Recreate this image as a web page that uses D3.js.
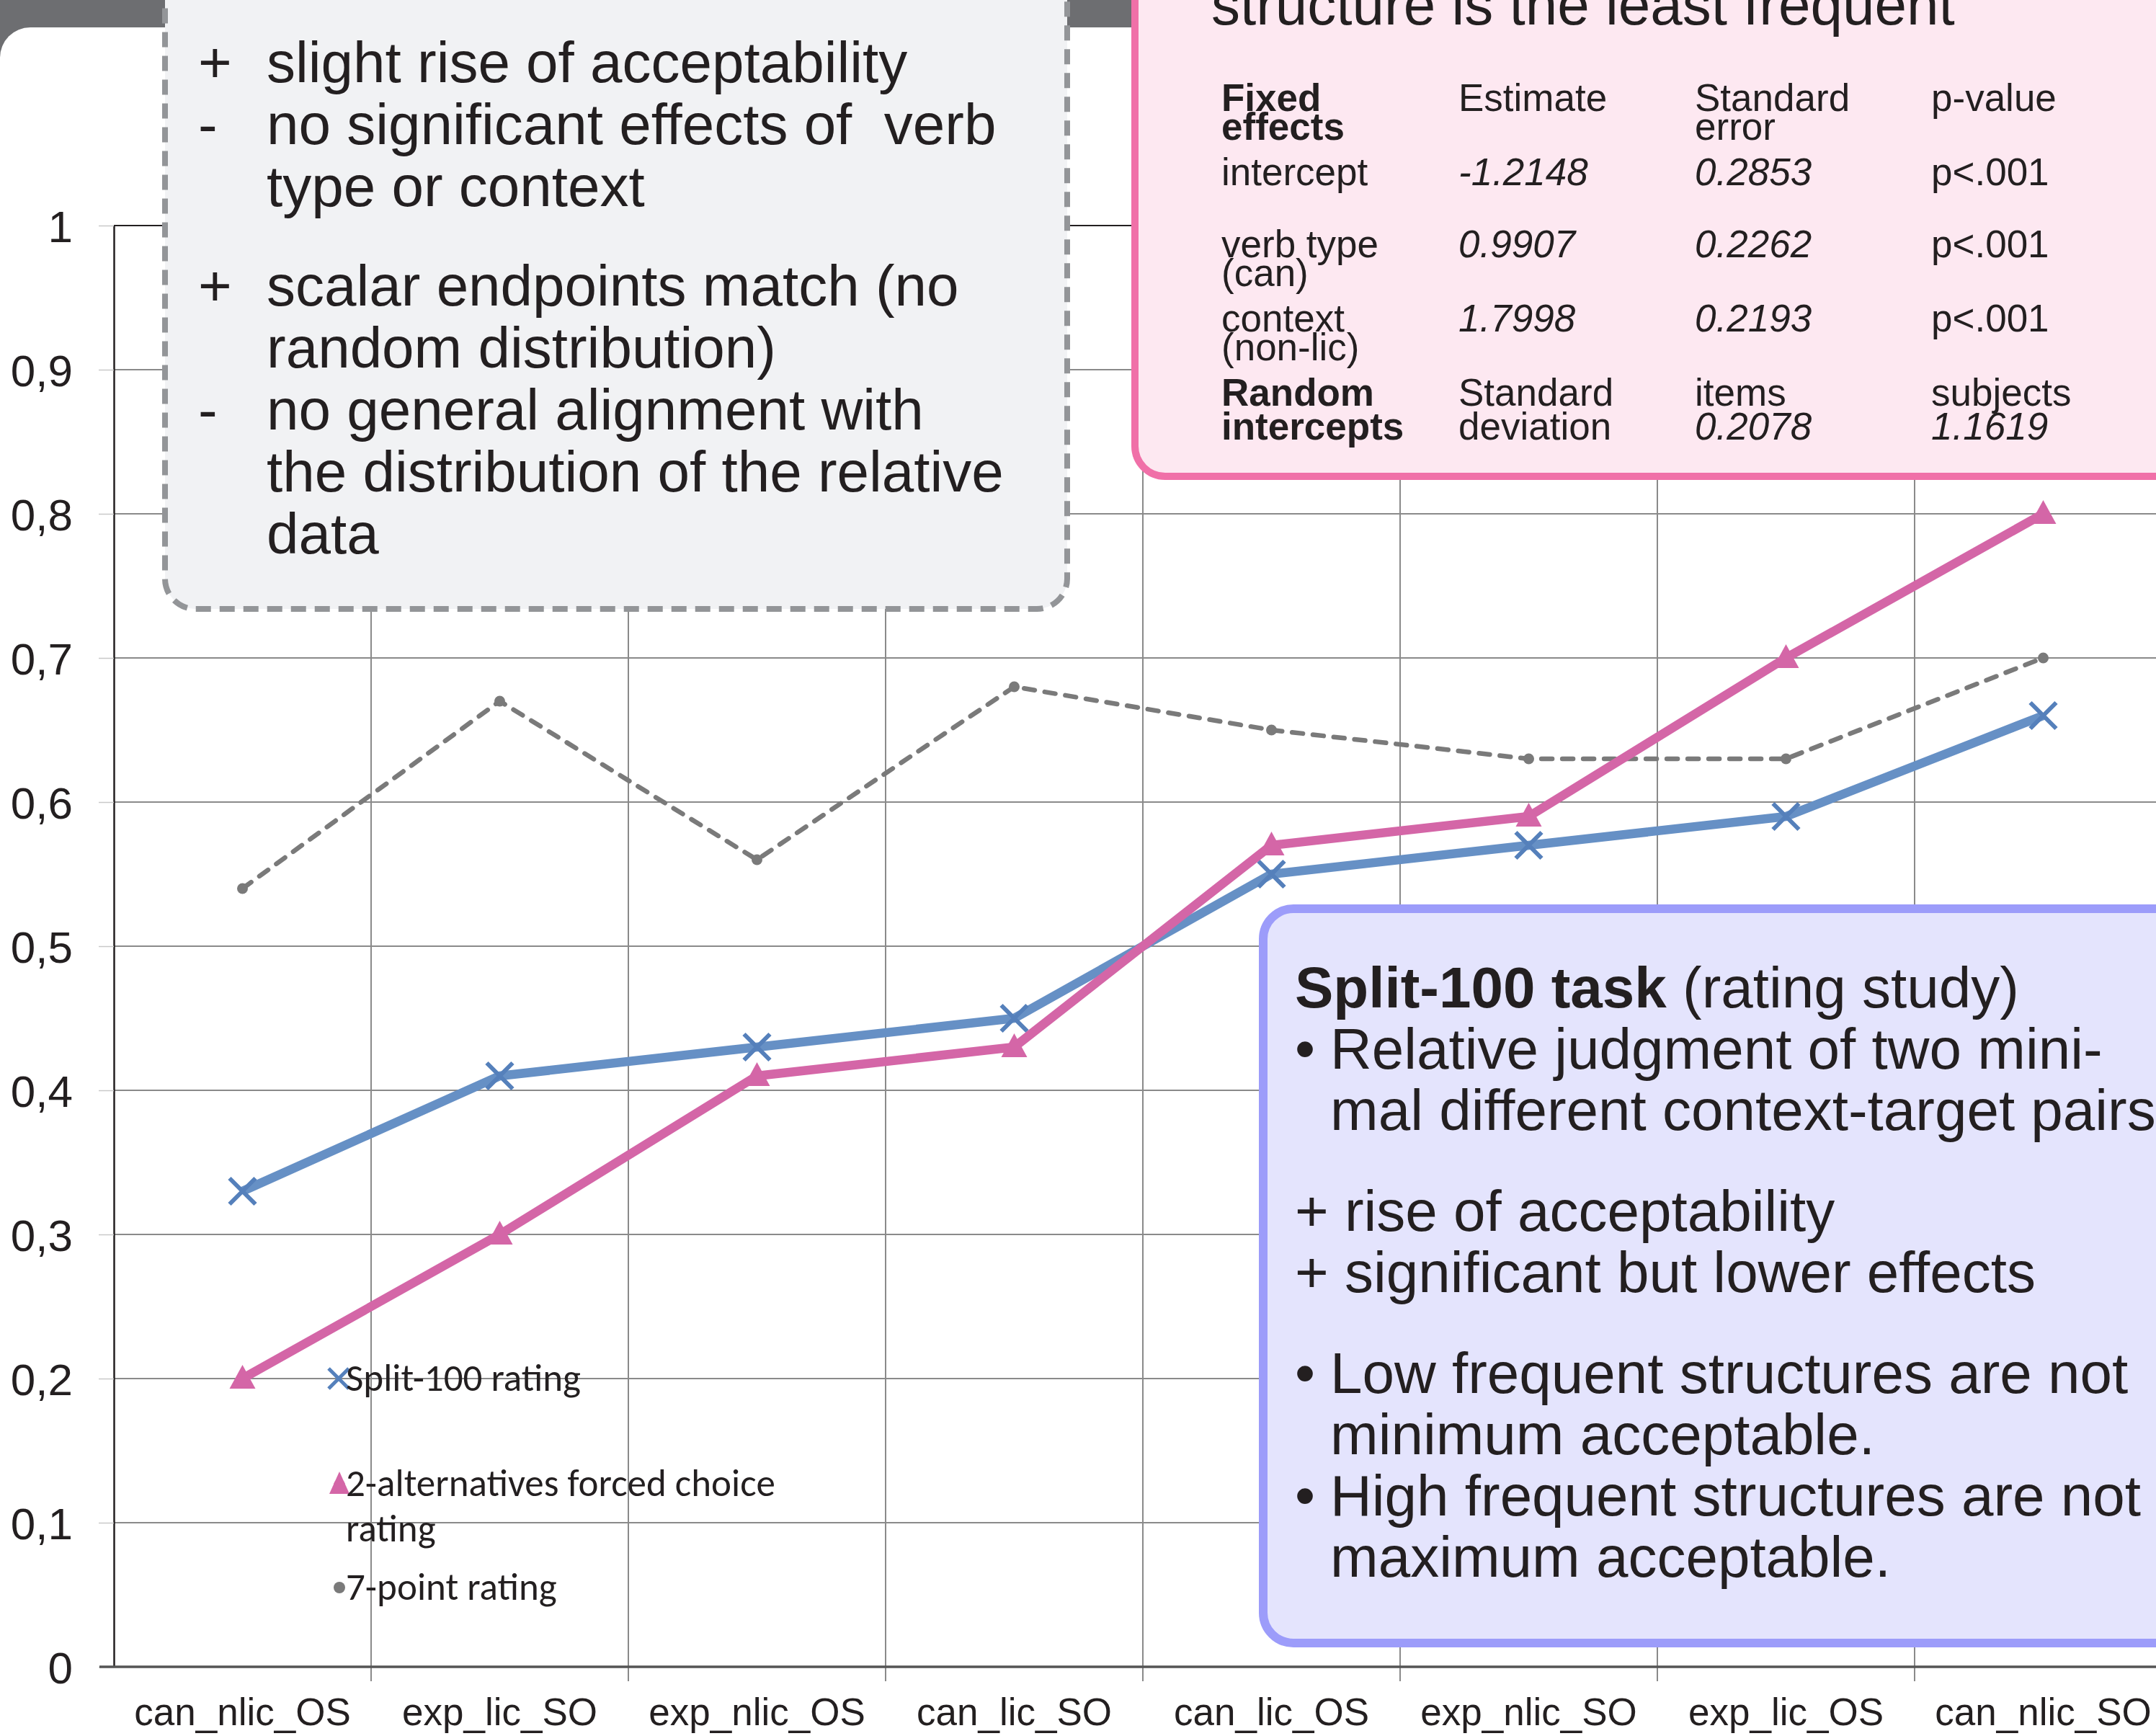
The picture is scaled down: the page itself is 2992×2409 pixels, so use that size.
<!DOCTYPE html>
<html>
<head>
<meta charset="utf-8">
<script src="https://cdn.jsdelivr.net/npm/d3@7"></script>
<style>
  body { margin: 0; background: #fff; }
  text { font-family: "Liberation Sans", Arial, sans-serif; fill: #231f20; }
  .legend text { font-family: Carlito, Calibri, Lato, sans-serif; }
</style>
</head>
<body>
<div id="chart"></div>
<script>
var W = 2992, H = 2409,
    m = [313, 0, 96, 158]; // top right bottom left

var categories = ["can_nlic_OS", "exp_lic_SO", "exp_nlic_OS", "can_lic_SO",
                  "can_lic_OS", "exp_nlic_SO", "exp_lic_OS", "can_nlic_SO"];
var split100 = [0.33, 0.41, 0.43, 0.45, 0.55, 0.57, 0.59, 0.66];
var forcedChoice = [0.20, 0.30, 0.41, 0.43, 0.57, 0.59, 0.70, 0.80];
var sevenPoint = [0.54, 0.67, 0.56, 0.68, 0.65, 0.63, 0.63, 0.70];
var yTicks = [0, 0.1, 0.2, 0.3, 0.4, 0.5, 0.6, 0.7, 0.8, 0.9, 1];
var yTickLabels = ["0", "0,1", "0,2", "0,3", "0,4", "0,5", "0,6", "0,7", "0,8", "0,9", "1"];
var legendNames = ["Split-100 rating", "2-alternatives forced choice|rating", "7-point rating"];

var grayNotes = [
  ["+", "slight rise of acceptability"],
  ["-", "no significant effects of \u00a0verb"],
  ["", "type or context"],
  null,
  ["+", "scalar endpoints match (no"],
  ["", "random distribution)"],
  ["-", "no general alignment with"],
  ["", "the distribution of the relative"],
  ["", "data"]
];

var tableRows = [
  {c: [["Fixed", "effects"], ["Estimate"], ["Standard", "error"], ["p-value"]], bold: true},
  {c: [["intercept"], ["-1.2148"], ["0.2853"], ["p<.001"]]},
  {c: [["verb type", "(can)"], ["0.9907"], ["0.2262"], ["p<.001"]]},
  {c: [["context", "(non-lic)"], ["1.7998"], ["0.2193"], ["p<.001"]]},
  {c: [["Random", "intercepts"], ["Standard", "deviation"], ["items", "0.2078"], ["subjects", "1.1619"]], bold: true, last: true}
];

var purpleNotes = [
  {t: "title"},
  {b: "\u2022", t: "Relative judgment of two mini-"},
  {b: "", t: "mal different context-target pairs"},
  null,
  {b: "+", t: "rise of acceptability"},
  {b: "+", t: "significant but lower effects"},
  null,
  {b: "\u2022", t: "Low frequent structures are not"},
  {b: "", t: "minimum acceptable."},
  {b: "\u2022", t: "High frequent structures are not"},
  {b: "", t: "maximum acceptable."}
];

var svg = d3.select("#chart").append("svg")
    .attr("width", W).attr("height", H);

// slide frame
svg.append("rect").attr("x", 0).attr("y", 0).attr("width", W).attr("height", 80).attr("fill", "#6d6e71");
svg.append("rect").attr("x", 0).attr("y", 38).attr("width", W + 100).attr("height", H)
    .attr("rx", 42).attr("fill", "#fff");

var x = d3.scaleBand().domain(categories).range([m[3], m[3] + 357 * 8]);
var y = d3.scaleLinear().domain([0, 1]).range([H - m[2], m[0]]);
var cx = function(i) { return x(categories[i]) + x.bandwidth() / 2; };

var g = svg.append("g");

// horizontal gridlines
g.selectAll(".hgrid").data(yTicks.slice(1, -1)).enter().append("line")
    .attr("x1", m[3]).attr("x2", x.range()[1])
    .attr("y1", function(d) { return y(d); }).attr("y2", function(d) { return y(d); })
    .attr("stroke", "#8a8a8a").attr("stroke-width", 2);

// vertical gridlines at category boundaries
g.selectAll(".vgrid").data(categories.slice(1)).enter().append("line")
    .attr("x1", function(d) { return x(d); }).attr("x2", function(d) { return x(d); })
    .attr("y1", y(1)).attr("y2", y(0) + 20)
    .attr("stroke", "#8a8a8a").attr("stroke-width", 2);

// y axis
var yAxis = d3.axisLeft(y).tickValues(yTicks)
    .tickFormat(function(d, i) { return yTickLabels[i]; })
    .tickSizeInner(21).tickSizeOuter(0).tickPadding(36);
var ya = g.append("g").attr("transform", "translate(" + m[3] + ",0)").call(yAxis);
ya.select(".domain").attr("stroke", "#231f20").attr("stroke-width", 2.5);
ya.selectAll(".tick line").attr("stroke", "#c8c8c8").attr("stroke-width", 1.5);
ya.selectAll(".tick text").attr("font-size", 62).attr("font-family", "Liberation Sans, Arial")
    .attr("fill", "#231f20").attr("dy", "0.36em");

// top line at 1
g.append("line").attr("x1", m[3]).attr("x2", x.range()[1]).attr("y1", y(1)).attr("y2", y(1))
    .attr("stroke", "#231f20").attr("stroke-width", 2);

// x axis
var xAxis = d3.axisBottom(x).tickSize(0).tickPadding(62);
var xa = g.append("g").attr("transform", "translate(0," + y(0) + ")").call(xAxis);
xa.select(".domain").remove();
xa.selectAll(".tick text").attr("font-size", 53).attr("font-family", "Liberation Sans, Arial")
    .attr("fill", "#231f20").attr("dy", "0.36em");
g.append("line").attr("x1", m[3] - 20).attr("x2", x.range()[1]).attr("y1", y(0)).attr("y2", y(0))
    .attr("stroke", "#555").attr("stroke-width", 3.5);

// series
var line = d3.line().x(function(d, i) { return cx(i); }).y(function(d) { return y(d); });

g.append("path").datum(sevenPoint).attr("d", line)
    .attr("fill", "none").attr("stroke", "#7a7a7a").attr("stroke-width", 6.5)
    .attr("stroke-dasharray", "15,14").attr("stroke-linecap", "round");
g.selectAll(".dot").data(sevenPoint).enter().append("circle")
    .attr("cx", function(d, i) { return cx(i); }).attr("cy", function(d) { return y(d); })
    .attr("r", 7.5).attr("fill", "#7a7a7a");

g.append("path").datum(split100).attr("d", line)
    .attr("fill", "none").attr("stroke", "#6690c5").attr("stroke-width", 12.5)
    .attr("stroke-linejoin", "round");
g.selectAll(".xm").data(split100).enter().append("path")
    .attr("d", "M-18,-18L18,18M-18,18L18,-18")
    .attr("transform", function(d, i) { return "translate(" + cx(i) + "," + y(d) + ")"; })
    .attr("stroke", "#5580bb").attr("stroke-width", 6).attr("fill", "none");

g.append("path").datum(forcedChoice).attr("d", line)
    .attr("fill", "none").attr("stroke", "#d466a7").attr("stroke-width", 12.5)
    .attr("stroke-linejoin", "round");
g.selectAll(".tri").data(forcedChoice).enter().append("path")
    .attr("d", "M0,-19L18,14L-18,14Z")
    .attr("transform", function(d, i) { return "translate(" + cx(i) + "," + y(d) + ")"; })
    .attr("fill", "#d466a7");

// legend
var leg = svg.append("g").attr("class", "legend");
var legY = [1913, 2059, 2203];
leg.append("path").attr("d", "M-14,-14L14,14M-14,14L14,-14")
    .attr("transform", "translate(470," + legY[0] + ")")
    .attr("stroke", "#5580bb").attr("stroke-width", 5).attr("fill", "none");
leg.append("circle").attr("cx", 471).attr("cy", legY[1] + 2).attr("r", 8).attr("fill", "#d466a7");
leg.append("path").attr("d", "M0,-17L14,14L-14,14Z")
    .attr("transform", "translate(471," + legY[1] + ")").attr("fill", "#d466a7");
leg.append("circle").attr("cx", 471).attr("cy", legY[2]).attr("r", 8).attr("fill", "#7a7a7a");
legendNames.forEach(function(n, i) {
  var t = leg.append("text").attr("x", 480).attr("y", legY[i] + 17).attr("font-size", 53);
  n.split("|").forEach(function(s, j) {
    t.append("tspan").attr("x", 480).attr("dy", j ? 63 : 0).text(s);
  });
});

// gray note box
var gb = svg.append("g");
gb.append("rect").attr("x", 229).attr("y", -60).attr("width", 1252).attr("height", 905)
    .attr("rx", 42).attr("fill", "#f1f2f4").attr("stroke", "#939598")
    .attr("stroke-width", 8).attr("stroke-dasharray", "21,12");
var gy = 114;
grayNotes.forEach(function(r) {
  if (!r) { gy += 52; return; }
  gb.append("text").attr("x", 275).attr("y", gy).attr("font-size", 80).text(r[0]);
  gb.append("text").attr("x", 370).attr("y", gy).attr("font-size", 80).text(r[1]);
  gy += 86;
});

// pink statistics box
var pb = svg.append("g");
pb.append("rect").attr("x", 1575).attr("y", -100).attr("width", 1600).attr("height", 761)
    .attr("rx", 42).attr("fill", "#fde8f1").attr("stroke", "#f070a8").attr("stroke-width", 10);
pb.append("text").attr("x", 1681).attr("y", 34).attr("font-size", 80)
    .text("structure is the least frequent");
var colX = [1695, 2024, 2352, 2680];
var rowY = [154, 257, 357, 460, 563];
tableRows.forEach(function(r, ri) {
  r.c.forEach(function(cell, ci) {
    var t = pb.append("text").attr("x", colX[ci]).attr("y", rowY[ri]).attr("font-size", 53);
    cell.forEach(function(s, j) {
      var ts = t.append("tspan").attr("x", colX[ci]).attr("dy", j ? (r.last ? 47 : 40) : 0).text(s);
      if (/^-?\d/.test(s)) ts.attr("font-style", "italic");
      if (r.bold && ci === 0) ts.attr("font-weight", "bold");
    });
  });
});

// purple summary box
var vb = svg.append("g");
vb.append("rect").attr("x", 1753).attr("y", 1261).attr("width", 1400).attr("height", 1019)
    .attr("rx", 42).attr("fill", "#e4e4fd").attr("stroke", "#9c9cfa").attr("stroke-width", 12);
var py = 1398;
purpleNotes.forEach(function(r) {
  if (!r) { py += 55; return; }
  if (r.t === "title") {
    var t = vb.append("text").attr("x", 1797).attr("y", py).attr("font-size", 80);
    t.append("tspan").attr("font-weight", "bold").text("Split-100 task");
    t.append("tspan").text(" (rating study)");
  } else if (r.b === "+") {
    vb.append("text").attr("x", 1797).attr("y", py).attr("font-size", 80).text("+ " + r.t);
  } else {
    vb.append("text").attr("x", 1797).attr("y", py).attr("font-size", 80).text(r.b);
    vb.append("text").attr("x", 1846).attr("y", py).attr("font-size", 80).text(r.t);
  }
  py += 85;
});
</script>
</body>
</html>
